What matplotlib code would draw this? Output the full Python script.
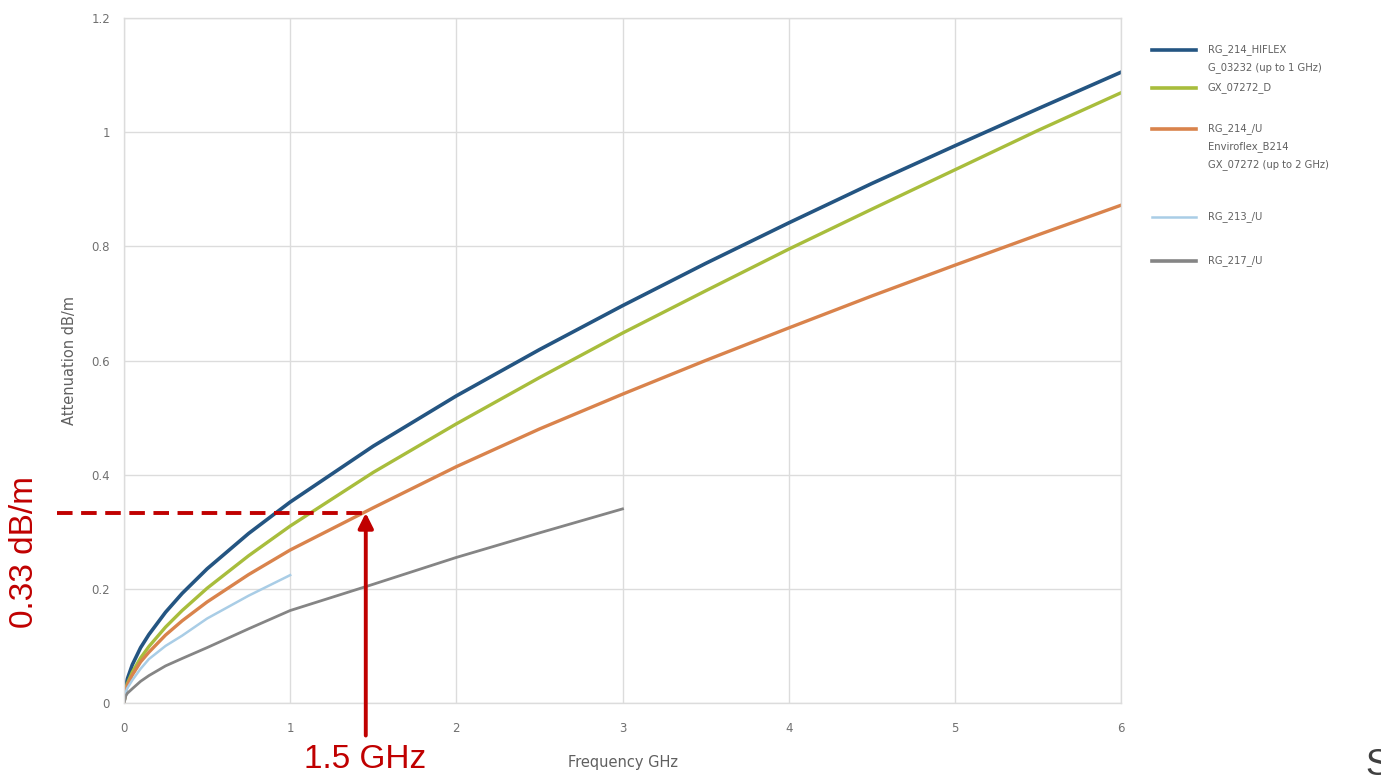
import matplotlib
matplotlib.use("Agg")
import matplotlib.pyplot as plt
from matplotlib.lines import Line2D

# ---- data ----
freq_long = [0, 0.01, 0.02, 0.05, 0.1, 0.15, 0.25, 0.35, 0.5, 0.75, 1.0, 1.5, 2.0, 2.5, 3.0, 3.5, 4.0, 4.5, 5.0, 5.5, 6.0]
rg214_hiflex = [0, 0.029, 0.042, 0.067, 0.097, 0.120, 0.159, 0.192, 0.235, 0.297, 0.352, 0.450, 0.538, 0.619, 0.696, 0.770, 0.841, 0.910, 0.976, 1.041, 1.105]
gx07272_d = [0, 0.023, 0.034, 0.054, 0.079, 0.099, 0.133, 0.162, 0.201, 0.258, 0.310, 0.404, 0.489, 0.570, 0.648, 0.722, 0.795, 0.865, 0.934, 1.003, 1.069]
rg214_u = [0, 0.021, 0.031, 0.049, 0.072, 0.089, 0.119, 0.144, 0.177, 0.225, 0.268, 0.342, 0.414, 0.480, 0.541, 0.600, 0.657, 0.713, 0.767, 0.820, 0.872]

freq_213 = [0, 0.01, 0.02, 0.05, 0.1, 0.15, 0.25, 0.35, 0.5, 0.75, 1.0]
rg213_u = [0, 0.018, 0.026, 0.040, 0.060, 0.077, 0.100, 0.118, 0.148, 0.188, 0.224]

freq_217 = [0, 0.01, 0.02, 0.05, 0.1, 0.15, 0.25, 0.35, 0.5, 0.75, 1.0, 1.5, 2.0, 2.5, 3.0]
rg217_u = [0, 0.012, 0.017, 0.025, 0.038, 0.048, 0.065, 0.078, 0.097, 0.130, 0.162, 0.208, 0.255, 0.298, 0.340]

series_labels = ["RG_214_HIFLEX\nG_03232 (up to 1 GHz)", "GX_07272_D",
                 "RG_214_/U\nEnviroflex_B214\nGX_07272 (up to 2 GHz)", "RG_213_/U", "RG_217_/U"]
series_colors = ["#245582", "#a8bd3c", "#d9834c", "#a9cde6", "#858585"]

x_ticks = [0, 1, 2, 3, 4, 5, 6]
y_ticks = [0, 0.2, 0.4, 0.6, 0.8, 1.0, 1.2]
y_tick_labels = ["0", "0.2", "0.4", "0.6", "0.8", "1", "1.2"]

mark_label_freq = "1.5 GHz"
mark_label_att = "0.33 dB/m"
mark_x = 1.455
mark_att = 0.333

# ---- figure ----
W, H = 1381, 775
fig = plt.figure(figsize=(W / 100, H / 100), dpi=100)
ax = fig.add_axes([124 / W, 1 - 703 / H, (1121 - 124) / W, (703 - 18) / H])

tick_color = "#707070"
ax.plot(freq_long, rg214_hiflex, color=series_colors[0], lw=2.6)
ax.plot(freq_long, gx07272_d, color=series_colors[1], lw=2.4)
ax.plot(freq_long, rg214_u, color=series_colors[2], lw=2.4)
ax.plot(freq_213, rg213_u, color=series_colors[3], lw=1.8)
ax.plot(freq_217, rg217_u, color=series_colors[4], lw=2.0)

ax.set_xlim(0, 6)
ax.set_ylim(0, 1.2)
ax.set_xticks(x_ticks)
ax.set_xticklabels([str(t) for t in x_ticks])
ax.set_yticks(y_ticks)
ax.set_yticklabels(y_tick_labels)
ax.tick_params(length=0, labelsize=8.5, colors=tick_color)
ax.tick_params(axis="x", pad=14)
ax.tick_params(axis="y", pad=10)
ax.grid(True, color="#dcdcdc", lw=1.0)
for s in ax.spines.values():
    s.set_color("#dcdcdc")
    s.set_linewidth(1.0)

ax.set_xlabel("Frequency GHz", fontsize=10.5, color="#606060", labelpad=14)
ax.set_ylabel("Attenuation dB/m", fontsize=10.5, color="#606060", labelpad=10)

# ---- legend (drawn manually) ----
leg_y = [50, 88, 129, 217, 261]
for lab, col, yy in zip(series_labels, series_colors, leg_y):
    yf = 1 - yy / H
    fig.add_artist(Line2D([1152 / W, 1196 / W], [yf, yf], color=col,
                          lw=2.6 if col != series_colors[3] else 1.8))
    fig.text(1208 / W, 1 - (yy - 6) / H, lab, fontsize=7.2, color="#606060", va="top", ha="left",
             linespacing=1.9)

# ---- red annotation ----
red = "#c00000"
ax.plot([-0.405, mark_x], [mark_att, mark_att], color=red, lw=2.8, ls=(0, (4, 2.2)), clip_on=False)
ax.annotate("", xy=(mark_x, mark_att), xytext=(mark_x, -0.057),
            arrowprops=dict(arrowstyle="-|>,head_length=0.9,head_width=0.45", color=red, lw=2.8,
                            shrinkA=0, shrinkB=0), annotation_clip=False)
fig.text(365 / W, 1 - 759 / H, mark_label_freq, fontsize=24, color=red, ha="center", va="center",
         family="Liberation Sans")
fig.text(25 / W, 1 - 552 / H, mark_label_att, fontsize=24, color=red, ha="center", va="center",
         rotation=90, family="Liberation Sans")
fig.text(1365 / W, 1 - 748 / H, "S", fontsize=26, color="#404040", ha="left", va="top",
         family="Liberation Sans")

fig.savefig("out.png", dpi=100)
